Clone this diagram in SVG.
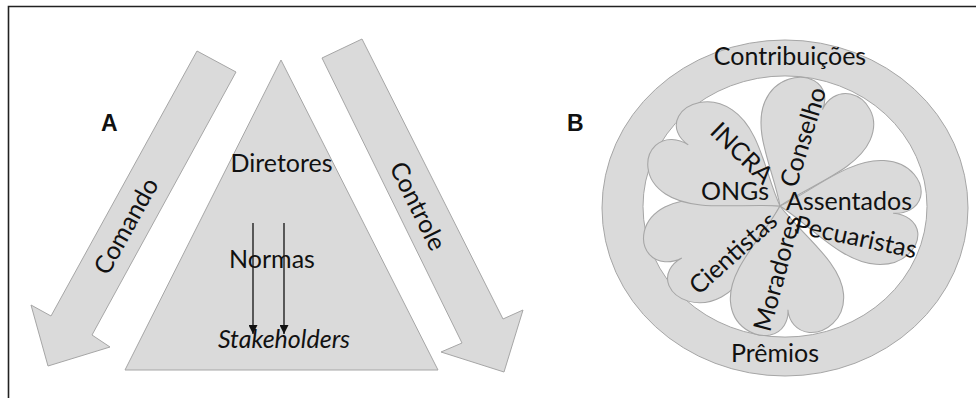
<svg xmlns="http://www.w3.org/2000/svg" width="976" height="398" viewBox="0 0 976 398">
<style>
.sh{fill:#dadada;stroke:#a6a6a6;stroke-width:1}
.t{font-family:Lato,"Open Sans",sans-serif;font-size:25px;fill:#111}
.c{text-anchor:middle}
.b{font-family:"Liberation Sans",Arial,sans-serif;font-weight:bold;font-size:23px;fill:#111}
.frame{stroke:#222;stroke-width:1.6;fill:none}
</style>
<defs>
<marker id="ah" viewBox="0 0 10 10" refX="10" refY="5" markerWidth="9" markerHeight="9" markerUnits="userSpaceOnUse" orient="auto">
<path d="M0,0 L10,5 L0,10 Z" fill="#111"/>
</marker>
<path id="heart" d="M0,0 C-18,-30 -52,-60 -52,-92 C-52,-118 -32,-130 -18,-128 C-6,-126 0,-115 0,-104 C0,-115 6,-126 18,-128 C32,-130 52,-118 52,-92 C52,-60 18,-30 0,0 Z"/>
</defs>
<path class="frame" d="M8.5,398 L8.5,6.5 L976,6.5"/>

<g id="panelA">
<g id="comando">
<polygon class="sh" points="197,51 236,72 92,335 110,347 48,366 31,305 51,316"/>
<text class="t c" transform="translate(126,226) rotate(-61)" dy="0.35em">Comando</text>
</g>
<g id="controle">
<polygon class="sh" points="322,58 362,39 503,319 523,310 504,372 441,352 462,343"/>
<text class="t c" transform="translate(418,206) rotate(63.6)" dy="0.35em">Controle</text>
</g>
<g id="piramide">
<polygon class="sh" points="281,60 438,370 125,370"/>
<text class="t c" x="281.5" y="172">Diretores</text>
<text class="t c" x="272" y="268">Normas</text>
<text class="t c" x="284" y="348" font-style="italic">Stakeholders</text>
</g>
<g id="connectors" stroke="#111" stroke-width="1.3">
<line x1="253" y1="223" x2="253" y2="334" marker-end="url(#ah)"/>
<line x1="284" y1="223" x2="284" y2="334" marker-end="url(#ah)"/>
</g>
<text class="b" x="101" y="131">A</text>
</g>

<g id="panelB">
<g id="anel">
<path class="sh" fill-rule="evenodd" d="M602,208 A183,168 0 1,0 968,208 A183,168 0 1,0 602,208 Z M643,206.5 A142,130.5 0 1,0 927,206.5 A142,130.5 0 1,0 643,206.5 Z"/>
<text class="t c" x="790" y="65">Contribuições</text>
<text class="t c" x="775" y="362">Prêmios</text>
</g>
<g id="flor" transform="translate(780,206) scale(1.09,1)">
<use href="#heart" class="sh" transform="rotate(240)"/>
<use href="#heart" class="sh" transform="rotate(176)"/>
<use href="#heart" class="sh" transform="rotate(306)"/>
<use href="#heart" class="sh" transform="rotate(22)"/>
<use href="#heart" class="sh" transform="rotate(94)"/>
</g>
<g id="atores">
<text class="t c" transform="translate(742,153) rotate(44)" dy="0.35em">INCRA</text>
<text class="t c" x="735" y="200">ONGs</text>
<text class="t c" transform="translate(803,137) rotate(-73)" dy="0.35em">Conselho</text>
<text class="t c" x="849" y="210">Assentados</text>
<text class="t c" transform="translate(856,237) rotate(12)" dy="0.35em">Pecuaristas</text>
<text class="t c" transform="translate(733,253) rotate(-42)" dy="0.35em">Cientistas</text>
<text class="t c" transform="translate(777,273) rotate(-75)" dy="0.35em">Moradores</text>
</g>
<text class="b" x="567" y="131">B</text>
</g>
</svg>
